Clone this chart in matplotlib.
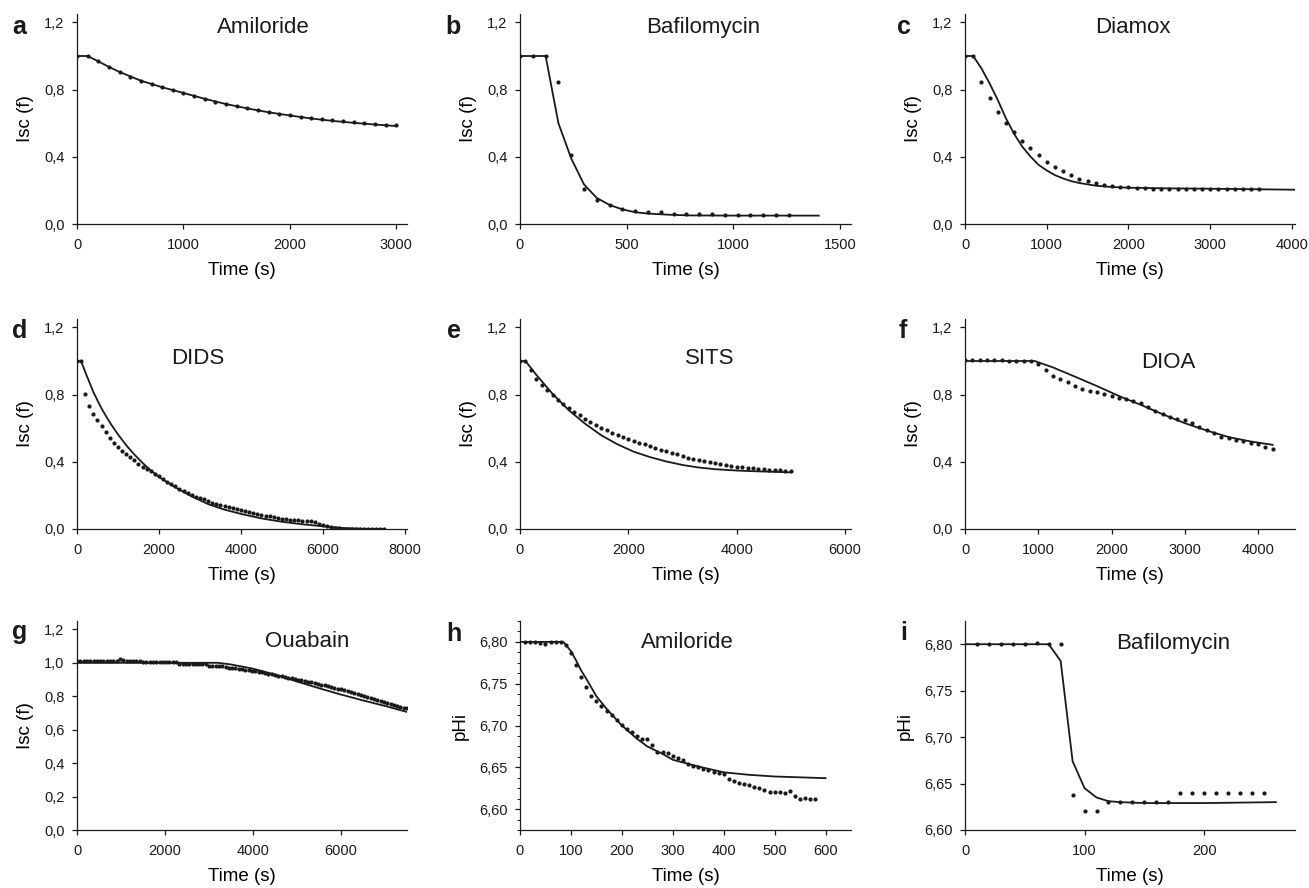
import numpy as np
import matplotlib
matplotlib.use("Agg")
import matplotlib.pyplot as plt
from matplotlib import ticker

plt.rcParams['font.family'] = ['Liberation Sans', 'DejaVu Sans']

# ---- data read off the reference (dots = measured, line = model) ----
# a  Amiloride (Isc), dots every 100 s
a_dots = [1.0, 1.0, 0.968, 0.933, 0.903, 0.877, 0.853, 0.836, 0.816, 0.798, 0.78,
          0.76, 0.743, 0.727, 0.713, 0.70, 0.69, 0.679, 0.665, 0.657, 0.648,
          0.638, 0.632, 0.626, 0.618, 0.614, 0.608, 0.604, 0.598, 0.592, 0.59]
a_line_t = [0, 100, 200, 300, 400, 600, 800, 1000, 1200, 1400, 1600, 1800, 2000,
            2200, 2400, 2600, 2800, 3000]
a_line = [1.0, 1.0, 0.968, 0.935, 0.905, 0.853, 0.814, 0.78, 0.745, 0.714, 0.688,
          0.665, 0.646, 0.628, 0.614, 0.602, 0.592, 0.583]

# b  Bafilomycin (Isc), dots every 60 s
b_dots = [1.0, 1.0, 1.0, 0.848, 0.41, 0.21, 0.14, 0.111, 0.091, 0.079, 0.071,
          0.069, 0.061, 0.061, 0.061, 0.061, 0.051, 0.051, 0.051, 0.051, 0.051, 0.051]
b_line_t = [0, 120, 180, 240, 300, 360, 420, 480, 540, 600, 700, 800, 1000, 1200, 1400]
b_line = [1.0, 1.0, 0.60, 0.39, 0.235, 0.155, 0.113, 0.087, 0.07, 0.062, 0.055,
          0.051, 0.05, 0.05, 0.05]

# c  Diamox (Isc), dots every 100 s
c_dots = [1.0, 1.0, 0.848, 0.749, 0.665, 0.6, 0.545, 0.495, 0.451, 0.41, 0.368,
          0.341, 0.313, 0.293, 0.269, 0.253, 0.244, 0.234, 0.224, 0.22, 0.22,
          0.214, 0.214, 0.21, 0.21, 0.21, 0.21, 0.21, 0.21, 0.21, 0.21, 0.21,
          0.21, 0.21, 0.21, 0.21, 0.21]
c_line_t = [0, 100, 200, 300, 400, 500, 600, 700, 800, 900, 1000, 1100, 1200, 1300,
            1400, 1600, 1800, 2000, 2500, 3000, 4050]
c_line = [1.0, 1.0, 0.927, 0.838, 0.739, 0.63, 0.537, 0.461, 0.402, 0.352, 0.319,
          0.291, 0.271, 0.255, 0.244, 0.228, 0.22, 0.216, 0.212, 0.21, 0.204]

# d  DIDS (Isc), dots every 100 s
d_dots = [1.0, 1.0, 0.805, 0.731, 0.683, 0.647, 0.614, 0.576, 0.544, 0.514, 0.49,
          0.466, 0.446, 0.426, 0.408, 0.388, 0.372, 0.359, 0.343, 0.329, 0.313,
          0.296, 0.280, 0.265, 0.255, 0.240, 0.226, 0.212, 0.202, 0.192, 0.184,
          0.176, 0.167, 0.157, 0.150, 0.143, 0.136, 0.130, 0.124, 0.118, 0.112,
          0.106, 0.100, 0.095, 0.090, 0.086, 0.080, 0.075, 0.070, 0.065, 0.062,
          0.058, 0.056, 0.054, 0.052, 0.050, 0.048, 0.045, 0.040, 0.031, 0.024,
          0.017, 0.011, 0.006, 0.003, 0.002, 0.001, 0.0, 0.0, 0.0, 0.0, 0.0,
          0.0, 0.0, 0.0, 0.0]
d_line_t = [0, 100, 200, 300, 400, 500, 600, 700, 800, 900, 1000, 1200, 1400, 1600,
            1800, 2000, 2400, 2800, 3200, 3600, 4000, 4500, 5000, 5500, 6000, 6500,
            7000, 7500]
d_line = [1.0, 1.0, 0.935, 0.875, 0.815, 0.765, 0.717, 0.675, 0.635, 0.598, 0.563,
          0.499, 0.443, 0.393, 0.349, 0.31, 0.247, 0.194, 0.148, 0.115, 0.09, 0.063,
          0.043, 0.028, 0.016, 0.006, 0.001, 0.0]

# e  SITS (Isc), dots every 100 s
e_dots = [1.0, 1.0, 0.945, 0.895, 0.855, 0.826, 0.796, 0.766, 0.743, 0.723, 0.697,
          0.677, 0.657, 0.638, 0.620, 0.604, 0.588, 0.574, 0.560, 0.547, 0.535,
          0.525, 0.513, 0.503, 0.493, 0.483, 0.473, 0.463, 0.453, 0.444, 0.434,
          0.424, 0.416, 0.408, 0.402, 0.396, 0.390, 0.384, 0.380, 0.376, 0.372,
          0.368, 0.365, 0.362, 0.359, 0.356, 0.353, 0.351, 0.349, 0.347, 0.347]
e_line_t = [0, 100, 300, 600, 900, 1200, 1500, 1800, 2100, 2400, 2700, 3000, 3300,
            3600, 4000, 4300, 4600, 5000]
e_line = [1.0, 1.0, 0.918, 0.805, 0.707, 0.627, 0.558, 0.504, 0.46, 0.428, 0.402,
          0.381, 0.366, 0.356, 0.348, 0.344, 0.341, 0.337]

# f  DIOA (Isc), dots every 100 s
f_dots = [1.008, 1.008, 1.008, 1.008, 1.008, 1.006, 1.002, 1.002, 1.002, 1.0,
          0.982, 0.947, 0.913, 0.891, 0.873, 0.853, 0.836, 0.824, 0.814, 0.806,
          0.792, 0.782, 0.774, 0.762, 0.749, 0.725, 0.705, 0.685, 0.669, 0.657,
          0.65, 0.63, 0.61, 0.59, 0.570, 0.550, 0.539, 0.529, 0.521, 0.511,
          0.503, 0.491, 0.479]
f_line_t = [0, 950, 1200, 1500, 1800, 2100, 2400, 2700, 3000, 3300, 3600, 3900, 4200]
f_line = [1.0, 1.0, 0.962, 0.907, 0.851, 0.792, 0.739, 0.683, 0.63, 0.586, 0.547,
          0.521, 0.501]

# g  Ouabain (Isc), dots every 75 s
g_dots = [1.01, 1.01, 1.01, 1.01, 1.01, 1.01, 1.01, 1.01, 1.01, 1.01, 1.01, 1.01, 1.01,
          1.022, 1.018,
          1.012, 1.012, 1.012, 1.012, 1.012,
          1.003, 1.003, 1.003, 1.003, 1.003, 1.003, 1.003, 1.003, 1.003, 1.003, 1.003,
          0.992, 0.992, 0.992, 0.992, 0.992, 0.992, 0.992, 0.992, 0.992,
          0.981, 0.981, 0.981, 0.981, 0.981,
          0.972, 0.970, 0.968, 0.966, 0.963,
          0.960, 0.957, 0.954, 0.951, 0.948, 0.945,
          0.942, 0.938, 0.935, 0.931, 0.928,
          0.924, 0.920, 0.916, 0.912, 0.908, 0.904, 0.900, 0.896, 0.892, 0.888,
          0.884, 0.880, 0.875, 0.870, 0.866, 0.861, 0.856, 0.851, 0.846, 0.841,
          0.836, 0.831, 0.826, 0.820, 0.815, 0.809, 0.803, 0.797, 0.792, 0.786,
          0.780, 0.774, 0.768, 0.762, 0.756, 0.750, 0.744, 0.738, 0.732, 0.727, 0.718]
g_line_t = [0, 3000, 3200, 3500, 4000, 4500, 5000, 5500, 6000, 6500, 7000, 7500]
g_line = [1.0, 1.0, 1.0, 0.99, 0.965, 0.93, 0.888, 0.848, 0.81, 0.775, 0.742, 0.706]

# h  Amiloride (pHi), dots every 10 s from 10 s
h_dots = [6.800, 6.800, 6.800, 6.799, 6.798, 6.800, 6.800, 6.800, 6.796, 6.787,
          6.772, 6.758, 6.746, 6.735, 6.729, 6.723, 6.717, 6.712, 6.706, 6.701,
          6.696, 6.692, 6.688, 6.684, 6.684, 6.677, 6.668, 6.668, 6.667, 6.664,
          6.661, 6.659, 6.654, 6.652, 6.650, 6.648, 6.647, 6.644, 6.643, 6.642,
          6.636, 6.634, 6.631, 6.630, 6.629, 6.627, 6.625, 6.623, 6.621, 6.621,
          6.620, 6.619, 6.622, 6.616, 6.612, 6.613, 6.612, 6.612]
h_line_t = [0, 85, 100, 110, 120, 130, 150, 170, 200, 230, 250, 280, 300, 350, 400,
            450, 500, 550, 600]
h_line = [6.80, 6.80, 6.789, 6.778, 6.766, 6.756, 6.735, 6.72, 6.70, 6.684, 6.675,
          6.666, 6.659, 6.651, 6.644, 6.641, 6.639, 6.638, 6.637]

# i  Bafilomycin (pHi), dots every 10 s from 10 s
i_dots = [6.80, 6.80, 6.80, 6.80, 6.80, 6.801, 6.80, 6.80, 6.638, 6.62, 6.62,
          6.63, 6.63, 6.63, 6.63, 6.63, 6.63, 6.64, 6.64, 6.64, 6.64, 6.64, 6.64,
          6.64, 6.64]
i_line_t = [0, 70, 80, 90, 100, 110, 120, 130, 150, 200, 260]
i_line = [6.80, 6.80, 6.782, 6.674, 6.645, 6.635, 6.631, 6.63, 6.629, 6.629, 6.63]

# ---- layout ----
W, H = 1309, 888
fig = plt.figure(figsize=(W / 100, H / 100), dpi=100)

cols = [(77, 407), (520, 851), (965, 1295)]
rows = [(14, 224), (319, 529), (621, 830)]

ink = '#1a1a1a'


def comma(fmt):
    return ticker.FuncFormatter(lambda v, p: format(v, fmt).replace('.', ','))


panels = [
    # letter, title, title pos, dots t0, dt, dots, line_t, line, xlim, xticks
    ('a', 'Amiloride', (0.564, 0.938), 0, 100, a_dots, a_line_t, a_line, 3100, [0, 1000, 2000, 3000]),
    ('b', 'Bafilomycin', (0.553, 0.938), 0, 60, b_dots, b_line_t, b_line, 1551, [0, 500, 1000, 1500]),
    ('c', 'Diamox', (0.509, 0.938), 0, 100, c_dots, c_line_t, c_line, 4037, [0, 1000, 2000, 3000, 4000]),
    ('d', 'DIDS', (0.365, 0.81), 0, 100, d_dots, d_line_t, d_line, 8050, [0, 2000, 4000, 6000, 8000]),
    ('e', 'SITS', (0.574, 0.81), 0, 100, e_dots, e_line_t, e_line, 6110, [0, 2000, 4000, 6000]),
    ('f', 'DIOA', (0.615, 0.795), 0, 100, f_dots, f_line_t, f_line, 4505, [0, 1000, 2000, 3000, 4000]),
    ('g', 'Ouabain', (0.697, 0.90), 0, 75, g_dots, g_line_t, g_line, 7500, [0, 2000, 4000, 6000]),
    ('h', 'Amiloride', (0.505, 0.895), 10, 10, h_dots, h_line_t, h_line, 650, [0, 100, 200, 300, 400, 500, 600]),
    ('i', 'Bafilomycin', (0.63, 0.89), 10, 10, i_dots, i_line_t, i_line, 276, [0, 100, 200]),
]
letter_pos = [(12, 34), (445, 34), (897, 34),
              (12, 338), (447, 338), (899, 338),
              (12, 639), (446, 641), (900, 640)]

for k, (letter, title, tpos, t0, dt, dots, lt, lv, xmax, xt) in enumerate(panels):
    r, c = divmod(k, 3)
    left, right = cols[c]
    top, bottom = rows[r]
    ax = fig.add_axes([left / W, 1 - bottom / H, (right - left) / W, (bottom - top) / H])

    t = t0 + dt * np.arange(len(dots))
    ax.plot(lt, lv, '-', color=ink, lw=1.3, zorder=2)
    ax.plot(t, dots, 'o', color=ink, ms=3.0, mec='none', zorder=3)

    ax.set_xlim(0, xmax)
    ax.set_xticks(xt)
    if letter in 'hi':
        ax.set_yticks([6.60, 6.65, 6.70, 6.75, 6.80])
        ax.yaxis.set_major_formatter(comma('.2f'))
        ax.set_ylim(6.575 if letter == 'h' else 6.60, 6.825)
        if letter == 'h':
            ax.yaxis.set_minor_locator(ticker.MultipleLocator(0.0125))
        ax.set_ylabel('pHi', fontsize=13.5, labelpad=7)
    else:
        if letter == 'g':
            ax.set_yticks([0, 0.2, 0.4, 0.6, 0.8, 1.0, 1.2])
        else:
            ax.set_yticks([0, 0.4, 0.8, 1.2])
        ax.yaxis.set_major_formatter(comma('.1f'))
        ax.set_ylim(0, 1.25)
        ax.set_ylabel('Isc (f)', fontsize=13.5, labelpad=7)

    ax.set_xlabel('Time (s)', fontsize=13.5, labelpad=7)
    ax.spines['top'].set_visible(False)
    ax.spines['right'].set_visible(False)
    for s in ('left', 'bottom'):
        ax.spines[s].set_linewidth(0.9)
        ax.spines[s].set_color(ink)
    ax.tick_params(which='major', direction='out', length=3.5, width=0.9,
                   labelsize=10.5, color=ink, labelcolor=ink)
    ax.tick_params(axis='x', pad=6.5)
    ax.tick_params(axis='y', pad=5.5)
    ax.tick_params(which='minor', direction='out', length=2, width=0.7, color=ink)

    ax.text(tpos[0], tpos[1], title, transform=ax.transAxes, ha='center',
            va='center', fontsize=16, color=ink)
    lx, ly = letter_pos[k]
    fig.text(lx / W, 1 - ly / H, letter, fontsize=18, fontweight='bold',
             ha='left', va='baseline', color=ink)

fig.savefig('out.png', dpi=100)
